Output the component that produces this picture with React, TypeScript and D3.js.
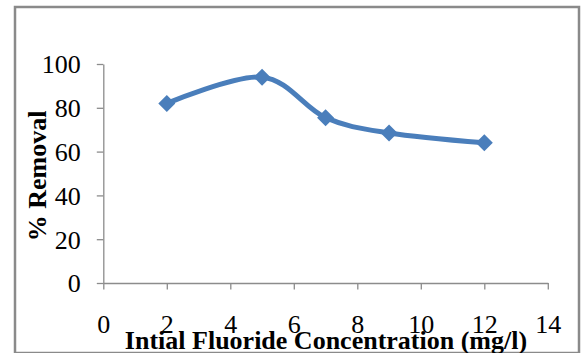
import React, { useEffect, useRef } from "react";
import * as d3 from "d3";

const concentrations = [2, 5, 7, 9, 12];
const removal = [82, 94, 75.5, 68.5, 64];
const xTicks = [0, 2, 4, 6, 8, 10, 12, 14];
const yTicks = [0, 20, 40, 60, 80, 100];
const xTitle = "Intial Fluoride Concentration (mg/l)";
const yTitle = "% Removal";

const W = 581;
const H = 353;

export default function App() {
  const ref = useRef<SVGSVGElement | null>(null);

  useEffect(() => {
    const svg = d3.select(ref.current);
    svg.selectAll("*").remove();

    const x = d3.scaleLinear().domain([0, 14]).range([103.3, 547.8]);
    const y = d3.scaleLinear().domain([0, 100]).range([283, 64]);
    const font = "Liberation Serif";
    const axisColor = "#8c8c8c";

    // outer border
    svg.append("rect")
      .attr("x", 15).attr("y", 7).attr("width", 564).attr("height", 346)
      .attr("fill", "white").attr("stroke", "#8a8a8a").attr("stroke-width", 2.5);

    // y axis
    const yAxis = d3.axisLeft(y).tickValues(yTicks).tickSize(6.5).tickSizeOuter(0).tickPadding(16);
    const gy = svg.append("g").attr("transform", `translate(${x(0)},0)`).call(yAxis);
    gy.attr("font-family", font).attr("font-size", 26);
    gy.select(".domain").attr("stroke", axisColor).attr("stroke-width", 1.3);
    gy.selectAll(".tick line").attr("stroke", axisColor).attr("stroke-width", 1.3);
    gy.selectAll(".tick text")
      .style("font-family", font).style("font-size", "26px").attr("fill", "#000")
      .attr("dy", "0.34em");

    // x axis
    const xAxis = d3.axisBottom(x).tickValues(xTicks).tickSize(6.5).tickSizeOuter(0).tickPadding(0);
    const gx = svg.append("g").attr("transform", `translate(0,${y(0)})`).call(xAxis);
    gx.attr("font-family", font).attr("font-size", 26);
    gx.select(".domain").attr("stroke", axisColor).attr("stroke-width", 1.3);
    gx.selectAll(".tick line").attr("stroke", axisColor).attr("stroke-width", 1.3);
    gx.selectAll(".tick text")
      .style("font-family", font).style("font-size", "26px").attr("fill", "#000")
      .attr("y", 50).attr("dy", 0);

    // line
    const pts = concentrations.map((c, i) => [x(c), y(removal[i])] as [number, number]);
    const line = d3.line().curve(d3.curveCardinal.tension(0));
    svg.append("path")
      .attr("d", line(pts))
      .attr("fill", "none").attr("stroke", "#4a7ebb").attr("stroke-width", 5)
      .attr("stroke-linejoin", "round");

    // markers
    const s = 8.5;
    svg.selectAll("path.marker").data(pts).enter().append("path")
      .attr("class", "marker")
      .attr("d", (p) => `M${p[0]},${p[1] - s}L${p[0] + s},${p[1]}L${p[0]},${p[1] + s}L${p[0] - s},${p[1]}Z`)
      .attr("fill", "#4a7ebb");

    // titles
    svg.append("text")
      .attr("x", 326).attr("y", 349)
      .attr("text-anchor", "middle")
      .style("font-family", font).style("font-weight", "bold").style("font-size", "26px")
      .text(xTitle);

    svg.append("text")
      .attr("transform", `translate(46,176) rotate(-90)`)
      .attr("text-anchor", "middle")
      .style("font-family", font).style("font-weight", "bold").style("font-size", "26px")
      .text(yTitle);
  }, []);

  return (
    <svg
      ref={ref}
      width={W}
      height={H}
      style={{ position: "absolute", left: 0, top: 0, background: "white" }}
    />
  );
}
